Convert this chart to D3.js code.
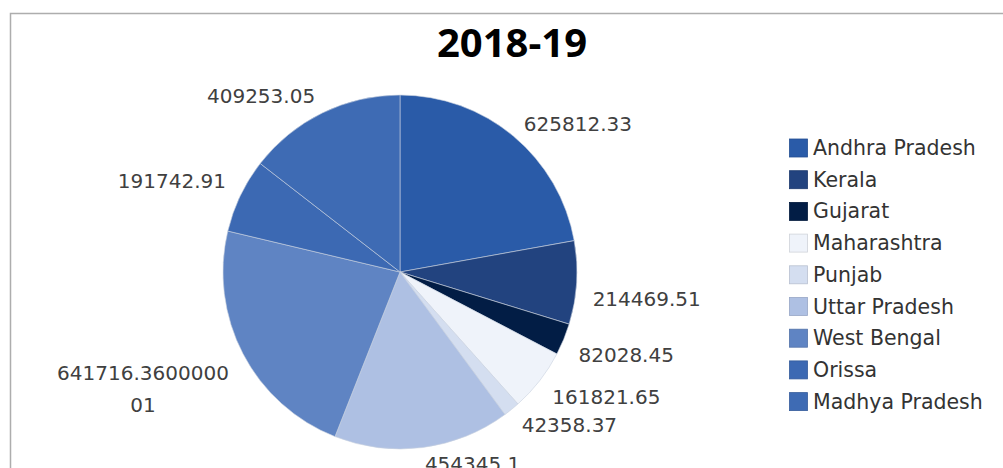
<!DOCTYPE html>
<html>
<head>
<meta charset="utf-8">
<script src="https://cdn.jsdelivr.net/npm/d3@7"></script>
<style>
  body { margin: 0; background: #fff; }
  svg { display: block; }
</style>
</head>
<body>
<svg id="chart" width="1003" height="468"></svg>
<script>
const states = ["Andhra Pradesh", "Kerala", "Gujarat", "Maharashtra", "Punjab",
    "Uttar Pradesh", "West Bengal", "Orissa", "Madhya Pradesh"];
const values = [625812.33, 214469.51, 82028.45, 161821.65, 42358.37,
    454345.1, 641716.360000001, 191742.91, 409253.05];
const labels = ["625812.33", "214469.51", "82028.45", "161821.65", "42358.37",
    "454345.1", "641716.360000001", "191742.91", "409253.05"];
const colors = ["#2a5ba8", "#22437f", "#021d45", "#eff3fa", "#d4def0",
    "#aec0e3", "#5f84c3", "#3c69b3", "#3e6bb4"];
const title = "2018-19";

const svg = d3.select("#chart");
const cx = 400, cy = 272, radius = 177;
const labelFont = "'DejaVu Sans', sans-serif";

// chart area border
svg.append("rect")
    .attr("x", 10.5).attr("y", 13.5)
    .attr("width", 1010).attr("height", 500)
    .attr("fill", "none")
    .attr("stroke", "#adadad")
    .attr("stroke-width", 1.5);

svg.append("text")
    .attr("x", 512).attr("y", 57)
    .attr("text-anchor", "middle")
    .style("font-family", "'Open Sans', sans-serif")
    .style("font-weight", "bold")
    .style("font-size", "40px")
    .attr("fill", "#000")
    .text(title);

const color = d3.scaleOrdinal().domain(states).range(colors);

const pie = d3.pie().sort(null).value((d, i) => values[i]);
const arcs = pie(states);
const arc = d3.arc().innerRadius(0).outerRadius(radius);

const g = svg.append("g").attr("transform", `translate(${cx},${cy})`);

g.selectAll("path")
    .data(arcs)
    .enter().append("path")
    .attr("d", arc)
    .attr("fill", d => color(d.data))
    .attr("stroke", "#c9d1df")
    .attr("stroke-width", 0.6);

// outside-end labels, box pushed away from the pie edge (roughly like excel does)
const pad = 16, lineH = 32, maxChars = 14;
arcs.forEach(function (d, i) {
    const a = (d.startAngle + d.endAngle) / 2;
    const sx = Math.sin(a), sy = -Math.cos(a);
    const ax = (radius + pad) * sx, ay = (radius + pad) * sy;
    let txt = labels[i];
    const lines = [];
    while (txt.length > maxChars) {
        lines.push(txt.slice(0, maxChars));
        txt = txt.slice(maxChars);
    }
    lines.push(txt);

    const t = g.append("text")
        .style("font-family", labelFont)
        .style("font-size", "20px")
        .attr("fill", "#404040")
        .attr("text-anchor", "middle");
    lines.forEach((l, j) => t.append("tspan").attr("x", 0).attr("dy", j ? lineH : 0).text(l));

    const bb = t.node().getBBox();
    const hw = bb.width / 2, hh = lines.length * lineH / 2;
    const ccx = ax + (sx >= 0 ? hw : -hw);
    let oy;
    if (sx >= 0) oy = sy >= 0 ? hh * (1 - Math.abs(sy)) : 0;
    else oy = sy * hh * (1 - Math.abs(sy)) * 2 + (lines.length - 1) * 12;
    const ccy = ay + oy;
    const firstBase = ccy - (lines.length - 1) * lineH / 2 + 7;
    t.attr("transform", `translate(${ccx},${firstBase})`);
});

// legend
const legend = svg.append("g").attr("transform", "translate(789,148)");
const rowH = 31.7;
const items = legend.selectAll("g")
    .data(states)
    .enter().append("g")
    .attr("transform", (d, i) => `translate(0,${i * rowH})`);

items.append("rect")
    .attr("x", 0.5).attr("y", -9)
    .attr("width", 18).attr("height", 18)
    .attr("fill", d => color(d))
    .attr("stroke", d => d3.color(color(d)).darker(0.4))
    .attr("stroke-width", 0.8);

items.append("text")
    .attr("x", 24).attr("y", 7)
    .style("font-family", labelFont)
    .style("font-size", "20.5px")
    .attr("fill", "#333")
    .text(d => d);
</script>
</body>
</html>
